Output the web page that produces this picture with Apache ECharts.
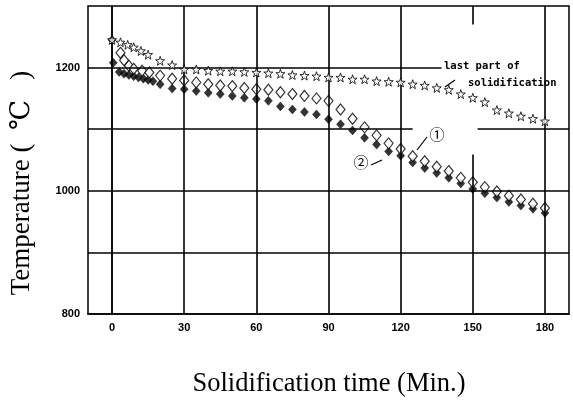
<!DOCTYPE html>
<html><head><meta charset="utf-8">
<script src="https://cdn.jsdelivr.net/npm/echarts@6/dist/echarts.min.js"></script>
<style>html,body{margin:0;padding:0;background:#fff}#c{width:573px;height:405px}</style>
</head><body><div id="c"></div>
<script>
// ---- data ----
var starTime = [0, 3.5, 6.5, 9, 12, 15, 20, 25, 30, 35, 40, 45, 50, 55, 60, 65, 70, 75, 80, 85, 90, 95, 100, 105, 110, 115, 120, 125, 130, 135, 140, 145, 150, 155, 160, 165, 170, 175, 180];
var starTemp = [1245, 1241, 1237, 1233, 1227, 1221, 1211, 1204, 1197, 1197, 1195, 1194, 1194, 1193, 1192, 1191, 1190, 1188, 1187, 1186, 1184, 1184, 1181, 1181, 1178, 1177, 1176, 1173, 1171, 1167, 1164, 1157, 1151, 1144, 1131, 1126, 1121, 1117, 1113];

var openTime = [3.5, 5, 7, 9, 12.5, 15.5, 20, 25, 30, 35, 40, 45, 50, 55, 60, 65, 70, 75, 80, 85, 90, 95, 100, 105, 110, 115, 120, 125, 130, 135, 140, 145, 150, 155, 160, 165, 170, 175, 180];
var openTemp = [1224, 1212, 1203, 1198, 1195, 1192, 1187, 1182, 1179, 1176, 1173, 1171, 1170, 1167, 1165, 1164, 1160, 1157, 1154, 1150, 1146, 1132, 1117, 1103, 1090, 1077, 1068, 1056, 1048, 1039, 1032, 1021, 1014, 1006, 999, 992, 986, 979, 972];

var filledTime = [0, 0.5, 3, 5, 7, 9, 11, 13, 15, 17, 20, 25, 30, 35, 40, 45, 50, 55, 60, 65, 70, 75, 80, 85, 90, 95, 100, 105, 110, 115, 120, 125, 130, 135, 140, 145, 150, 155, 160, 165, 170, 175, 180];
var filledTemp = [1245, 1208, 1193, 1190, 1188, 1186, 1184, 1182, 1180, 1178, 1173, 1166, 1165, 1162, 1159, 1157, 1154, 1151, 1149, 1146, 1137, 1132, 1128, 1124, 1116, 1108, 1098, 1086, 1075, 1064, 1057, 1046, 1037, 1029, 1021, 1012, 1003, 996, 989, 982, 976, 971, 964];

var xTickLabels = [0, 30, 60, 90, 120, 150, 180];
var yTickLabels = [800, 1000, 1200];

// grid line segments [x1, y1, x2, y2] in data units
var vGrid = [[0,800,0,1300],[30,800,30,1300],[60,800,60,1300],[90,800,90,1300],[120,800,120,1300],[150,800,150,1059],[150,1270,150,1300],[180,800,180,1300]];
var hGrid = [[-10,900,190,900],[-10,1000,190,1000],[-10,1100,125,1100],[152,1100,190,1100],[-10,1200,137,1200]];

function pairs(xs, ys){ return xs.map(function(x,i){ return [x, ys[i]]; }); }
function segs(list){ return list.map(function(s){ return [{coord:[s[0],s[1]]},{coord:[s[2],s[3]]}]; }); }

var starPath = 'path://M0,-10 L2.35,-3.24 L9.51,-3.09 L3.8,1.24 L5.88,8.09 L0,4 L-5.88,8.09 L-3.8,1.24 L-9.51,-3.09 L-2.35,-3.24 Z';

var chart = echarts.init(document.getElementById('c'));
chart.setOption({
  animation: false,
  backgroundColor: '#fff',
  grid: {left: 88, right: 4, top: 6, bottom: 91, show: true, borderColor: '#000', borderWidth: 1.5, backgroundColor: 'transparent'},
  xAxis: {
    type: 'value', min: -10, max: 190, interval: 10,
    axisLine: {show: true, lineStyle: {color: '#000', width: 1.5}},
    axisTick: {show: false}, splitLine: {show: false},
    axisLabel: {
      margin: 8, color: '#000', fontFamily: 'Liberation Sans Narrow, Liberation Sans, sans-serif', fontSize: 11, fontWeight: 'bold',
      formatter: function(v){ return xTickLabels.indexOf(v) >= 0 ? String(v) : ''; }
    }
  },
  yAxis: {
    type: 'value', min: 800, max: 1300, interval: 100,
    axisLine: {show: true, lineStyle: {color: '#000', width: 1.5}},
    axisTick: {show: false}, splitLine: {show: false},
    axisLabel: {
      margin: 8, color: '#000', fontFamily: 'Liberation Sans Narrow, Liberation Sans, sans-serif', fontSize: 11, fontWeight: 'bold',
      formatter: function(v){ return yTickLabels.indexOf(v) >= 0 ? String(v) : ''; }
    }
  },
  series: [
    {type: 'scatter', data: [], z: 1, silent: true,
     markLine: {silent: true, symbol: ['none','none'], label: {show: false},
       lineStyle: {color: '#000', width: 1.6, type: 'solid'},
       data: segs(vGrid).concat(segs(hGrid))}},
    {name: '②', type: 'scatter', z: 3, data: pairs(filledTime, filledTemp), symbol: 'diamond', symbolSize: [8, 9],
     itemStyle: {color: '#000', borderColor: '#000', borderWidth: 0.5}},
    {name: '①', type: 'scatter', z: 4, data: pairs(openTime, openTemp), symbol: 'diamond', symbolSize: [9, 11],
     itemStyle: {color: '#fff', borderColor: '#000', borderWidth: 1.2}},
    {name: 'last part of solidification', type: 'scatter', z: 5, data: pairs(starTime, starTemp), symbol: starPath, symbolSize: 9,
     itemStyle: {color: '#fff', borderColor: '#000', borderWidth: 1}}
  ],
  graphic: [
    {type: 'text', x: 22, y: 183, rotation: Math.PI/2, z: 10,
     style: {text: 'Temperature (  ℃   )', font: '27px "Liberation Serif", "DejaVu Serif", serif', fill: '#000', textAlign: 'center', textVerticalAlign: 'middle'}},
    {type: 'text', x: 329, y: 384, z: 10,
     style: {text: 'Solidification time (Min.)', font: '26.5px "Liberation Serif", serif', fill: '#000', textAlign: 'center', textVerticalAlign: 'middle'}},
    {type: 'text', x: 444, y: 66, z: 10,
     style: {text: 'last part of', font: 'bold 10.5px "DejaVu Sans Mono", monospace', fill: '#000', textAlign: 'left', textVerticalAlign: 'middle'}},
    {type: 'text', x: 468, y: 83, z: 10,
     style: {text: 'solidification', font: 'bold 10.5px "DejaVu Sans Mono", monospace', fill: '#000', textAlign: 'left', textVerticalAlign: 'middle'}},
    {type: 'line', z: 10, shape: {x1: 445, y1: 87, x2: 455, y2: 80}, style: {stroke: '#000', lineWidth: 1.2}},
    {type: 'text', x: 437, y: 134, z: 10,
     style: {text: '①', font: '15px "Noto Sans CJK JP", sans-serif', fill: '#000', textAlign: 'center', textVerticalAlign: 'middle'}},
    {type: 'line', z: 10, shape: {x1: 417, y1: 150, x2: 427, y2: 137}, style: {stroke: '#000', lineWidth: 1.2}},
    {type: 'text', x: 361, y: 162, z: 10,
     style: {text: '②', font: '15px "Noto Sans CJK JP", sans-serif', fill: '#000', textAlign: 'center', textVerticalAlign: 'middle'}},
    {type: 'line', z: 10, shape: {x1: 371, y1: 165, x2: 382, y2: 160}, style: {stroke: '#000', lineWidth: 1.2}}
  ]
});
</script>
</body></html>
